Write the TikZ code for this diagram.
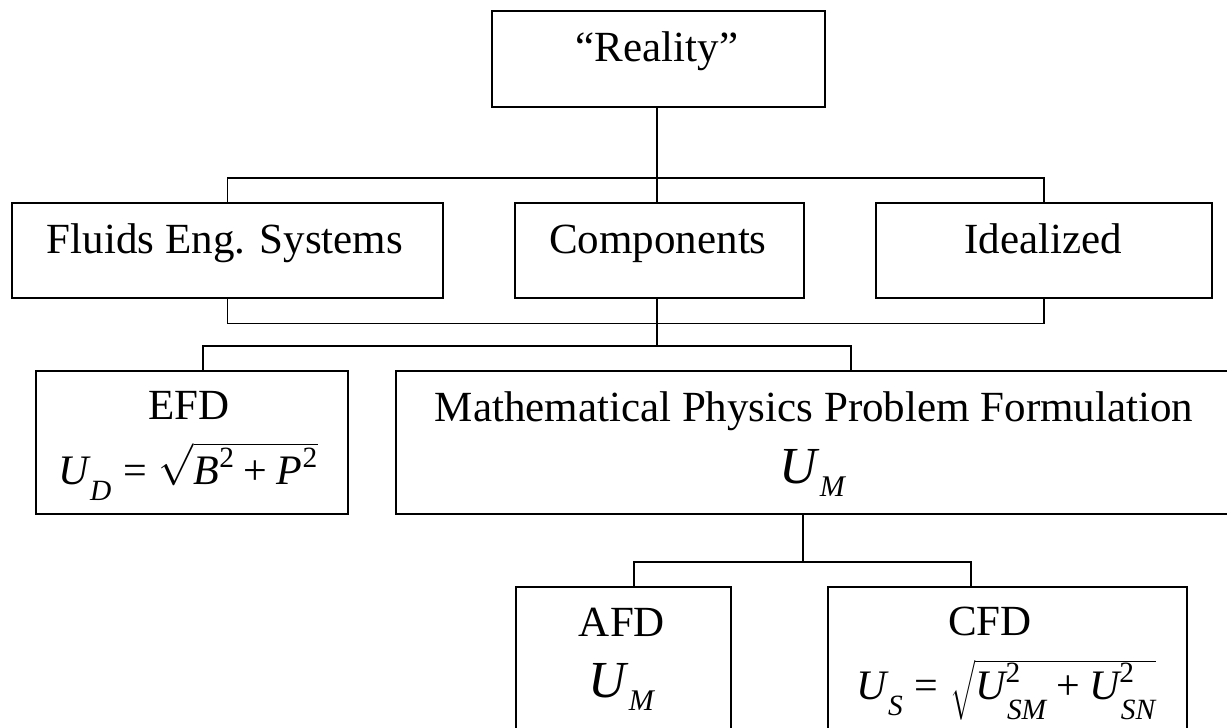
\RequirePackage{fix-cm}
\documentclass[tikz,border=0pt]{standalone}
\usepackage{amsmath}
\usepackage{fontspec}
\setmainfont{Liberation Serif}
\newcommand{\vi}[1]{\textit{#1}}
\newcommand{\lsub}[1]{\text{\kern1.5pt\raisebox{-0.35em}{\itshape #1}}}
\newcommand{\teq}{\mathrel{\text{=}}}
\newcommand{\tplus}{\mathbin{\text{+}}}
\newcommand{\UM}{{\fontsize{52}{52}\selectfont\itshape U}\kern3pt\raisebox{-13pt}{\fontsize{30}{30}\selectfont\itshape M}}
\tikzset{
  box/.style={draw, line width=1.7pt, inner sep=0pt, anchor=north west},
  conn/.style={line width=1.3pt},
  lbl/.style={anchor=base, inner sep=0pt, font=\fontsize{43}{50}\selectfont},
  frm/.style={anchor=base, inner sep=0pt, font=\fontsize{42}{48}\selectfont},
}
\begin{document}
\begin{tikzpicture}[x=1pt,y=-1pt]
\useasboundingbox (0,0) rectangle (1227,728);
\clip (0,0) rectangle (1227,728);
\fill[white] (0,0) rectangle (1227,728);
% boxes
\node[box, minimum width=333pt, minimum height=96pt] (reality) at (491,10) {};
\node[box, minimum width=431pt, minimum height=95pt] (fluids) at (11,202) {};
\node[box, minimum width=289pt, minimum height=95pt] (components) at (514,202) {};
\node[box, minimum width=336pt, minimum height=95pt] (idealized) at (875,202) {};
\node[box, minimum width=312pt, minimum height=143pt] (efd) at (35,370) {};
\node[box, minimum width=850pt, minimum height=143pt] (math) at (395,370) {};
\node[box, minimum width=215pt, minimum height=160pt] (afd) at (515,586) {};
\node[box, minimum width=359pt, minimum height=160pt] (cfd) at (827,586) {};
% connector coordinates
\coordinate (b1) at (657,178);
\coordinate (b2l) at (203,346);
\coordinate (b2r) at (851,346);
\coordinate (b3l) at (634,562);
\coordinate (b3m) at (803,562);
\coordinate (b3r) at (971,562);
% connectors
\draw[conn] (reality.south -| b1) -- (components.north -| b1);
\draw[conn] (fluids.north) -- ++(0,-24) -| (idealized.north);
\draw[conn] (fluids.south) -- ++(0,25) -| (idealized.south);
\draw[conn] (components.south -| b1) -- (b1 |- b2l);
\draw[conn] (efd.north -| b2l) -- (b2l) -- (b2r) -- (math.north -| b2r);
\draw[conn] (math.south -| b3m) -- (b3m);
\draw[conn] (afd.north -| b3l) -- (b3l) -- (b3r) -- (cfd.north -| b3r);
% texts
\node[lbl] (treality) at (657,61) {``Reality''};
\node[lbl] (tfluids) at (225,253) {Fluids Eng. Systems};
\node[lbl] (tcomp) at (658,253) {Components};
\node[lbl] (tideal) at (1043,253) {Idealized};
\node[lbl] (tefd) at (189,419) {EFD};
\node[frm] (fefd) at (188,484) {$\vi{U}_{\lsub{D}} \teq \sqrt{\vi{B}^{\text{2}}\tplus\vi{P}^{\text{2}}}$};
\node[lbl] (tmath) at (814,421) {Mathematical Physics Problem Formulation};
\node[frm] (fmath) at (812,483) {\UM};
\node[lbl] (tafd) at (622,636) {AFD};
\node[frm] (fafd) at (621,697) {\UM};
\node[lbl] (tcfd) at (990,635) {CFD};
\node[frm] (fcfd) at (1006,699) {$\vi{U}_{\lsub{S}} \teq \sqrt{\vi{U}^{\text{2}}_{\lsub{SM}}\tplus\vi{U}^{\text{2}}_{\lsub{SN}}}$};
\end{tikzpicture}
\end{document}
